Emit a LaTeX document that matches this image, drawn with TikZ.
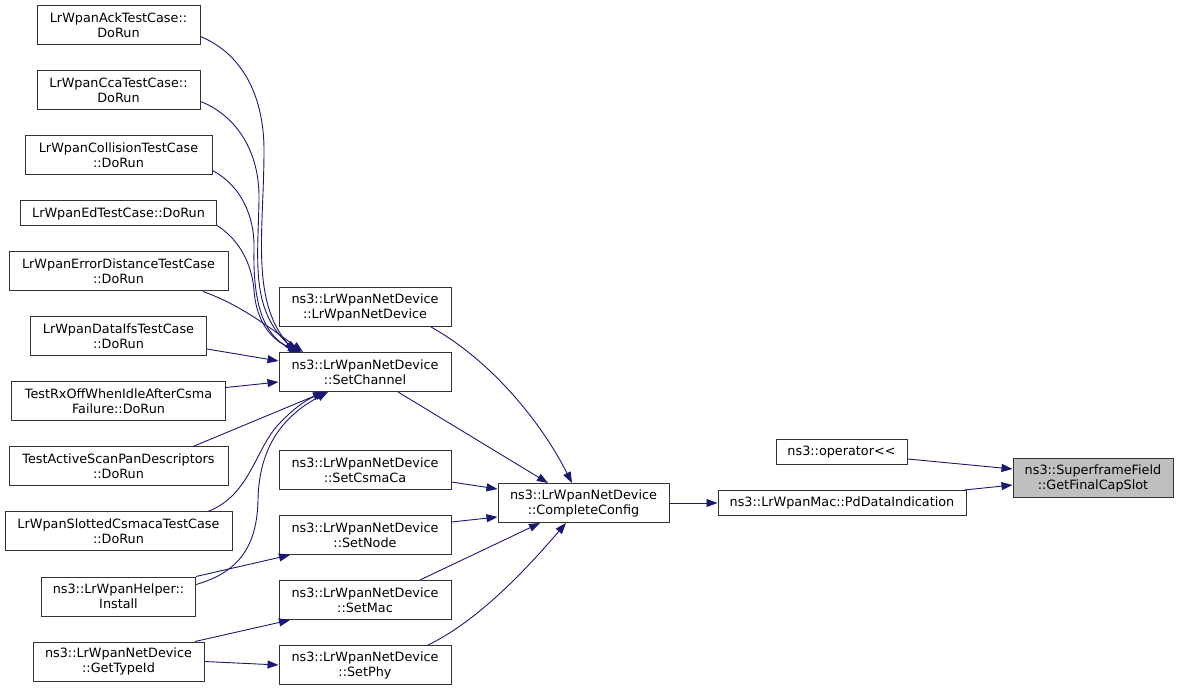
\documentclass[tikz,border=0pt]{standalone}
\usepackage{fontspec}
\newfontfamily\dxfam{DejaVu Sans}
\usetikzlibrary{arrows.meta, positioning}
\definecolor{edgeblue}{HTML}{191970}
\definecolor{boxline}{HTML}{333333}
\definecolor{boxfill}{HTML}{BFBFBF}
\newcommand{\dxfont}{\dxfam\fontsize{12.8}{15}\selectfont}

\begin{document}
\begin{tikzpicture}[x=1pt, y=-1pt,
    fn/.style={draw=boxline, line width=1pt, fill=white, align=center, inner sep=0pt, minimum height=39pt, font=\dxfont},
    fn1/.style={fn, minimum height=25pt},
    call/.style={draw=edgeblue, line width=0.9pt, -{Triangle[length=11pt, width=8pt]}}]
    \useasboundingbox (0,0) rectangle (1179,692);

    % callers of SetChannel, left column
    \node[fn, minimum width=163pt] (ack) at (118.5,25.5) {LrWpanAckTestCase::\\DoRun};
    \node[fn, minimum width=163pt, below=25pt of ack] (cca) {LrWpanCcaTestCase::\\DoRun};
    \node[fn, minimum width=187pt, below=25pt of cca] (collision) {LrWpanCollisionTestCase\\::DoRun};
    \node[fn1, minimum width=196pt, below=25pt of collision] (ed) {LrWpanEdTestCase::DoRun};
    \node[fn, minimum width=219pt, below=25pt of ed] (errdist) {LrWpanErrorDistanceTestCase\\::DoRun};
    \node[fn, minimum width=176pt, below=25pt of errdist] (dataifs) {LrWpanDataIfsTestCase\\::DoRun};
    \node[fn, minimum width=214pt, below=25pt of dataifs] (rxoff) {TestRxOffWhenIdleAfterCsma\\Failure::DoRun};
    \node[fn, minimum width=219pt, below=25pt of rxoff] (activescan) {TestActiveScanPanDescriptors\\::DoRun};
    \node[fn, minimum width=227pt, below=25pt of activescan] (slotted) {LrWpanSlottedCsmacaTestCase\\::DoRun};
    \node[fn, minimum width=154pt, below=25pt of slotted] (install) {ns3::LrWpanHelper::\\Install};
    \node[fn, minimum width=171pt, below=25pt of install] (typeid) {ns3::LrWpanNetDevice\\::GetTypeId};

    % LrWpanNetDevice members
    \node[fn, minimum width=172pt] (ctor) at (365,307) {ns3::LrWpanNetDevice\\::LrWpanNetDevice};
    \node[fn, minimum width=172pt, below=25pt of ctor] (setchannel) {ns3::LrWpanNetDevice\\::SetChannel};
    \node[fn, minimum width=172pt] (setcsma) at (365,470) {ns3::LrWpanNetDevice\\::SetCsmaCa};
    \node[fn, minimum width=172pt, below=25pt of setcsma] (setnode) {ns3::LrWpanNetDevice\\::SetNode};
    \node[fn, minimum width=172pt, below=25pt of setnode] (setmac) {ns3::LrWpanNetDevice\\::SetMac};
    \node[fn, minimum width=172pt, below=25pt of setmac] (setphy) {ns3::LrWpanNetDevice\\::SetPhy};

    \node[fn, minimum width=171pt] (complete) at (583.5,503) {ns3::LrWpanNetDevice\\::CompleteConfig};
    \node[fn1, minimum width=248pt, right=48pt of complete] (pddata) {ns3::LrWpanMac::PdDataIndication};
    \node[fn1, minimum width=131pt] (oper) at (841.5,452) {ns3::operator<<};
    \node[fn, fill=boxfill, minimum width=160pt] (capslot) at (1093,478) {ns3::SuperframeField\\::GetFinalCapSlot};

    % right part
    \draw[call] ([xshift=-2pt]pddata.north east) -- ([yshift=-7pt]capslot.west);
    \draw[call] ([yshift=-7pt]oper.east) -- ([yshift=9pt]capslot.west);
    \draw[call] (complete.east) -- (pddata.west);

    \draw[call] ([xshift=66pt]ctor.south) .. controls (490,360) and (540,420) .. ([xshift=-11.5pt]complete.north);
    \draw[call] ([xshift=33pt]setchannel.south) -- ([xshift=-35.5pt]complete.north);
    \draw[call] ([yshift=-12pt]setcsma.east) -- ([yshift=14pt]complete.west);
    \draw[call] ([yshift=13pt]setnode.east) -- ([yshift=-14pt]complete.west);
    \draw[call] ([xshift=55pt]setmac.north) -- ([xshift=-43.5pt]complete.south);
    \draw[call] ([xshift=63pt]setphy.north) .. controls (480,620) and (530,565) .. ([xshift=-17.5pt]complete.south);

    % into SetChannel
    \draw[call] ([yshift=-11pt]ack.east) .. controls (245,55) and (264,100) .. (264,150) .. controls (264,230) and (250,300) .. ([xshift=-70pt]setchannel.north);
    \draw[call] ([yshift=-11pt]cca.east) .. controls (235,115) and (260,150) .. (259,200) .. controls (258,260) and (250,310) .. ([xshift=-68pt]setchannel.north);
    \draw[call] ([yshift=-15pt]collision.east) .. controls (240,185) and (255,215) .. (254,250) .. controls (253,300) and (262,335) .. ([xshift=-66pt]setchannel.north);
    \draw[call] ([yshift=-12pt]ed.east) .. controls (240,240) and (252,265) .. (254,290) .. controls (256,320) and (270,340) .. ([xshift=-64pt]setchannel.north);
    \draw[call] ([xshift=84.5pt]errdist.south) .. controls (235,303) and (260,320) .. ([xshift=-62pt]setchannel.north);
    \draw[call] ([yshift=-12.5pt]dataifs.east) -- ([yshift=11pt]setchannel.west);
    \draw[call] ([yshift=14pt]rxoff.east) -- ([yshift=-10pt]setchannel.west);
    \draw[call] ([xshift=74.5pt]activescan.north) -- ([xshift=-41pt]setchannel.south);
    \draw[call] ([xshift=89.5pt]slotted.north) .. controls (250,495) and (255,450) .. (278,425) .. controls (292,410) and (305,400) .. ([xshift=-39pt]setchannel.south);
    \draw[call] ([yshift=12pt]install.east) .. controls (240,572) and (257,545) .. (258,500) .. controls (259,445) and (285,415) .. ([xshift=-37pt]setchannel.south);

    % lower members
    \draw[call] (install.north east) -- ([xshift=-75pt]setnode.south);
    \draw[call] ([xshift=76.5pt]typeid.north) -- ([xshift=-75pt]setmac.south);
    \draw[call] (typeid.east) -- (setphy.west);

\end{tikzpicture}
\end{document}
